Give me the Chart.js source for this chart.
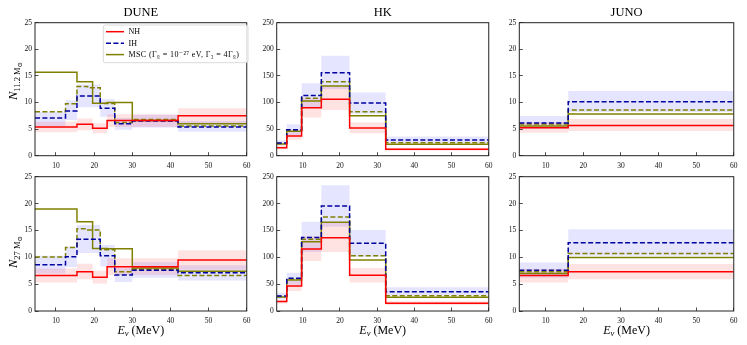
<!DOCTYPE html>
<html><head><meta charset="utf-8">
<script src="https://cdn.jsdelivr.net/npm/chart.js@4.4.1/dist/chart.umd.min.js"></script>
<style>
html,body{margin:0;padding:0;background:#fff;}
#wrap{position:relative;width:747px;height:345px;overflow:hidden;background:#fff;}
canvas{position:absolute;}
</style></head><body>
<div id="wrap">
<canvas id="c0" width="260" height="172" style="left:0px;top:0px"></canvas>
<canvas id="c1" width="252" height="172" style="left:250px;top:0px"></canvas>
<canvas id="c2" width="254" height="172" style="left:493px;top:0px"></canvas>
<canvas id="c3" width="260" height="181" style="left:0px;top:164px"></canvas>
<canvas id="c4" width="252" height="181" style="left:250px;top:164px"></canvas>
<canvas id="c5" width="254" height="181" style="left:493px;top:164px"></canvas>
</div>
<script>
// ---------- labels / ticks ----------
const titles = ['DUNE', 'HK', 'JUNO'];
const xTicks = [10, 20, 30, 40, 50, 60];
const yTicksSmall = [0, 5, 10, 15, 20, 25];
const yTicksHK = [0, 50, 100, 150, 200, 250];
const legendLabels = ['NH', 'IH', 'MSC (Γ₈ = 10⁻²⁷ eV, Γ₃ = 4Γ₈)'];
const yLabelSubs = ['11.2 M', '27 M'];
const xLabelText = ['E', 'ν', ' (MeV)'];

// ---------- DUNE (bin edges, MeV) ----------
const duneEdges = [4.5, 12.5, 15.5, 18.3, 19.6, 21.6, 23.4, 25.4, 30, 42, 60];
// 11.2 Msun
const duneTopNH    = [5.4, 5.4, 5.9, 5.9, 5.15, 5.15, 6.6, 6.6, 6.6, 7.5];
const duneTopIH    = [7.1, 8.4, 11.2, 11.2, 11.2, 8.9, 8.9, 6.0, 6.5, 5.4];
const duneTopMSC   = [15.7, 15.7, 13.9, 13.9, 9.85, 9.85, 10.0, 10.0, 6.6, 6.0];
const duneTopMSCIH = [8.25, 9.75, 13.0, 12.75, 12.75, 9.8, 9.8, 6.25, 6.8, 5.6];
const duneTopNHLo  = [4.4, 4.4, 4.8, 4.8, 4.2, 4.2, 5.4, 5.4, 5.4, 6.1];
const duneTopNHHi  = [6.4, 6.4, 7.0, 7.0, 6.1, 6.1, 7.8, 7.8, 7.8, 8.9];
const duneTopIHLo  = [5.6, 6.7, 9.1, 9.1, 9.1, 7.3, 7.3, 4.9, 5.3, 4.5];
const duneTopIHHi  = [8.2, 10.4, 13.4, 13.4, 13.4, 10.6, 10.6, 7.1, 7.7, 6.5];
// 27 Msun
const duneBotNH    = [6.6, 6.6, 7.3, 7.3, 6.3, 6.3, 8.25, 8.25, 8.25, 9.5];
const duneBotIH    = [8.6, 10.1, 13.35, 13.35, 13.35, 10.3, 10.3, 6.7, 7.6, 7.1];
const duneBotMSC   = [19.0, 19.0, 16.6, 16.6, 11.65, 11.65, 11.6, 11.6, 8.0, 7.4];
const duneBotMSCIH = [10.05, 11.8, 15.3, 15.1, 15.1, 11.4, 11.4, 7.3, 7.75, 6.6];
const duneBotNHLo  = [5.3, 5.3, 5.9, 5.9, 5.1, 5.1, 6.7, 6.7, 6.7, 7.7];
const duneBotNHHi  = [7.9, 7.9, 8.8, 8.8, 7.5, 7.5, 9.8, 9.8, 9.8, 11.3];
const duneBotIHLo  = [7.0, 8.2, 10.8, 10.8, 10.8, 8.3, 8.3, 5.4, 6.2, 5.7];
const duneBotIHHi  = [10.3, 12.0, 16.0, 16.0, 16.0, 12.3, 12.3, 8.0, 9.1, 8.5];

// ---------- HK ----------
const hkEdges = [3, 5.7, 9.7, 15, 22.6, 32.3, 60];
const hkTopNH    = [15, 37, 90, 106, 52, 12];
const hkTopIH    = [24, 49, 113, 156, 99, 29.5];
const hkTopMSC   = [22, 46, 103, 131, 75, 21.5];
const hkTopMSCIH = [23, 48, 108, 139, 82.5, 24.5];
const hkTopNHLo  = [12, 30, 72, 86, 42, 9.5];
const hkTopNHHi  = [19, 45, 108, 130, 63, 15];
const hkTopIHLo  = [19, 39, 90, 125, 79, 24];
const hkTopIHHi  = [29, 59, 136, 188, 119, 36];
const hkBotNH    = [17.5, 46.5, 115.5, 136.5, 66.5, 14.3];
const hkBotIH    = [28, 61, 137, 195.5, 126, 36];
const hkBotMSC   = [26, 57.5, 129, 165, 95, 25.5];
const hkBotMSCIH = [27, 59.5, 133.5, 175, 103, 28.5];
const hkBotNHLo  = [14, 37, 93, 110, 53, 11];
const hkBotNHHi  = [21, 56, 139, 165, 80, 18];
const hkBotIHLo  = [22, 49, 110, 157, 101, 29];
const hkBotIHHi  = [34, 71, 166, 234, 151, 44];

// ---------- JUNO ----------
const junoEdges = [3, 16, 60];
const junoTopNH    = [5.25, 5.7];
const junoTopIH    = [6.15, 10.15];
const junoTopMSC   = [5.6, 7.85];
const junoTopMSCIH = [5.95, 8.6];
const junoTopNHLo  = [4.3, 4.65];
const junoTopNHHi  = [6.3, 6.9];
const junoTopIHLo  = [5.0, 8.2];
const junoTopIHHi  = [7.45, 12.15];
const junoBotNH    = [6.6, 7.3];
const junoBotIH    = [7.6, 12.7];
const junoBotMSC   = [7.0, 9.95];
const junoBotMSCIH = [7.3, 10.7];
const junoBotNHLo  = [5.3, 5.9];
const junoBotNHHi  = [7.8, 8.75];
const junoBotIHLo  = [6.2, 10.3];
const junoBotIHHi  = [9.05, 15.2];

// ---------- styling ----------
const SERIF = "'Liberation Serif','DejaVu Serif',serif";
const COL_NH = '#ff0000', COL_IH = '#0000a0', COL_MSC = '#808000';

function steps(edges, vals) {
  const pts = vals.map((v, i) => ({x: edges[i], y: v}));
  pts.push({x: edges[edges.length - 1], y: vals[vals.length - 1]});
  return pts;
}

function drawRich(ctx, parts, x, y, angle, center) {
  ctx.save();
  ctx.translate(x, y);
  ctx.rotate(angle);
  let w = 0;
  parts.forEach(p => { ctx.font = (p.it ? 'italic ' : '') + p.px + 'px ' + SERIF; p.w = ctx.measureText(p.t).width; w += p.w; });
  let cx = center ? -w / 2 : 0;
  ctx.textBaseline = 'alphabetic';
  ctx.fillStyle = '#000';
  parts.forEach(p => { ctx.font = (p.it ? 'italic ' : '') + p.px + 'px ' + SERIF; ctx.fillText(p.t, cx, p.dy || 0); cx += p.w; });
  ctx.restore();
}

const framePlugin = {
  id: 'frame',
  afterDraw(chart) {
    const {ctx, chartArea: a} = chart;
    ctx.save();
    ctx.strokeStyle = '#222';
    ctx.lineWidth = 1;
    ctx.strokeRect(a.left, a.top, a.right - a.left, a.bottom - a.top);
    ctx.restore();
  }
};

function labelPlugin(p) {
  return {
    id: 'labels' + p.id,
    afterDraw(chart) {
      const ctx = chart.ctx, a = chart.chartArea;
      if (p.yLabel !== undefined) {
        drawRich(ctx, [
          {t: 'N', px: 12.5, it: true},
          {t: yLabelSubs[p.yLabel], px: 8.5, dy: 2.5},
          {t: '⊙', px: 6.5, dy: 4.5}
        ], 17, p.yLabelStart, -Math.PI / 2, false);
      }
      if (p.xLabel) {
        drawRich(ctx, [
          {t: xLabelText[0], px: 12, it: true},
          {t: xLabelText[1], px: 8.5, it: true, dy: 2.5},
          {t: xLabelText[2], px: 12}
        ], (a.left + a.right) / 2, 169.8, 0, true);
      }
    }
  };
}

const legendPlugin = {
  id: 'mplLegend',
  afterDraw(chart) {
    const ctx = chart.ctx;
    const bx = 103.3, by = 25, bw = 144.7, bh = 37.7, r = 2;
    ctx.save();
    ctx.beginPath();
    ctx.moveTo(bx + r, by); ctx.lineTo(bx + bw - r, by); ctx.arcTo(bx + bw, by, bx + bw, by + r, r);
    ctx.lineTo(bx + bw, by + bh - r); ctx.arcTo(bx + bw, by + bh, bx + bw - r, by + bh, r);
    ctx.lineTo(bx + r, by + bh); ctx.arcTo(bx, by + bh, bx, by + bh - r, r);
    ctx.lineTo(bx, by + r); ctx.arcTo(bx, by, bx + r, by, r);
    ctx.closePath();
    ctx.fillStyle = 'rgba(255,255,255,0.85)';
    ctx.fill();
    ctx.strokeStyle = '#d0d0d0';
    ctx.lineWidth = 0.8;
    ctx.stroke();
    const ys = [31.7, 43.2, 54.6];
    legendLabels.forEach((lab, i) => {
      const ds = chart.data.datasets.find(d => d.label === lab);
      ctx.beginPath();
      ctx.setLineDash(ds.borderDash || []);
      ctx.strokeStyle = ds.borderColor;
      ctx.lineWidth = ds.borderWidth;
      ctx.moveTo(106, ys[i]); ctx.lineTo(124, ys[i]);
      ctx.stroke();
      ctx.setLineDash([]);
      ctx.fillStyle = '#000';
      ctx.font = '8px ' + SERIF;
      ctx.textBaseline = 'middle';
      ctx.letterSpacing = lab.length > 5 ? '0.4px' : '0px';
      ctx.fillText(lab, 128.5, ys[i] + 0.5);
      ctx.letterSpacing = '0px';
    });
    ctx.restore();
  }
};

const panels = [
  {id: 0, title: titles[0], edges: duneEdges, xMin: 4.5, yMax: 25, yTicks: yTicksSmall, yW: 35, padR: 10.7, top: true,
   nh: duneTopNH, ih: duneTopIH, msc: duneTopMSC, mscih: duneTopMSCIH, nhLo: duneTopNHLo, nhHi: duneTopNHHi, ihLo: duneTopIHLo, ihHi: duneTopIHHi,
   yLabel: 0, yLabelStart: 100, legend: true},
  {id: 1, title: titles[1], edges: hkEdges, xMin: 3, yMax: 250, yTicks: yTicksHK, yW: 26.7, padR: 10.3, top: true,
   nh: hkTopNH, ih: hkTopIH, msc: hkTopMSC, mscih: hkTopMSCIH, nhLo: hkTopNHLo, nhHi: hkTopNHHi, ihLo: hkTopIHLo, ihHi: hkTopIHHi},
  {id: 2, title: titles[2], edges: junoEdges, xMin: 3, yMax: 25, yTicks: yTicksSmall, yW: 26.3, padR: 12.7, top: true,
   nh: junoTopNH, ih: junoTopIH, msc: junoTopMSC, mscih: junoTopMSCIH, nhLo: junoTopNHLo, nhHi: junoTopNHHi, ihLo: junoTopIHLo, ihHi: junoTopIHHi},
  {id: 3, edges: duneEdges, xMin: 4.5, yMax: 25, yTicks: yTicksSmall, yW: 35, padR: 10.7, top: false,
   nh: duneBotNH, ih: duneBotIH, msc: duneBotMSC, mscih: duneBotMSCIH, nhLo: duneBotNHLo, nhHi: duneBotNHHi, ihLo: duneBotIHLo, ihHi: duneBotIHHi,
   yLabel: 1, yLabelStart: 104, xLabel: true},
  {id: 4, edges: hkEdges, xMin: 3, yMax: 250, yTicks: yTicksHK, yW: 26.7, padR: 10.3, top: false,
   nh: hkBotNH, ih: hkBotIH, msc: hkBotMSC, mscih: hkBotMSCIH, nhLo: hkBotNHLo, nhHi: hkBotNHHi, ihLo: hkBotIHLo, ihHi: hkBotIHHi, xLabel: true},
  {id: 5, edges: junoEdges, xMin: 3, yMax: 25, yTicks: yTicksSmall, yW: 26.3, padR: 12.7, top: false,
   nh: junoBotNH, ih: junoBotIH, msc: junoBotMSC, mscih: junoBotMSCIH, nhLo: junoBotNHLo, nhHi: junoBotNHHi, ihLo: junoBotIHLo, ihHi: junoBotIHHi, xLabel: true}
];

const tickFont = {family: SERIF, size: 7.5};
const gridOpts = {drawOnChartArea: false, drawTicks: true, tickLength: -3.5, color: '#222', lineWidth: 0.8};

panels.forEach(p => {
  const base = {pointRadius: 0, pointHoverRadius: 0, stepped: true, tension: 0};
  const datasets = [
    Object.assign({data: steps(p.edges, p.nhLo), borderColor: 'transparent', borderWidth: 0, fill: false, order: 10}, base),
    Object.assign({data: steps(p.edges, p.nhHi), borderColor: 'transparent', borderWidth: 0, backgroundColor: 'rgba(255,0,0,0.11)', fill: '-1', order: 10}, base),
    Object.assign({data: steps(p.edges, p.ihLo), borderColor: 'transparent', borderWidth: 0, fill: false, order: 10}, base),
    Object.assign({data: steps(p.edges, p.ihHi), borderColor: 'transparent', borderWidth: 0, backgroundColor: 'rgba(0,0,255,0.10)', fill: '-1', order: 10}, base),
    Object.assign({label: 'MSC IH', data: steps(p.edges, p.mscih), borderColor: COL_MSC, borderWidth: 1.5, borderDash: [5, 2.4], fill: false, order: 4}, base),
    Object.assign({label: legendLabels[2], data: steps(p.edges, p.msc), borderColor: COL_MSC, borderWidth: 1.5, fill: false, order: 3}, base),
    Object.assign({label: legendLabels[1], data: steps(p.edges, p.ih), borderColor: COL_IH, borderWidth: 1.5, borderDash: [5, 2.4], fill: false, order: 2}, base),
    Object.assign({label: legendLabels[0], data: steps(p.edges, p.nh), borderColor: COL_NH, borderWidth: 1.5, fill: false, order: 1}, base)
  ];
  const plugins = [framePlugin, labelPlugin(p)];
  if (p.legend) plugins.push(legendPlugin);
  new Chart(document.getElementById('c' + p.id), {
    type: 'line',
    data: {datasets},
    plugins,
    options: {
      responsive: false,
      animation: false,
      devicePixelRatio: 1,
      events: [],
      layout: {padding: {left: 0, right: p.padR, top: p.top ? 0 : 12.7, bottom: 0}},
      plugins: {
        legend: {display: false},
        tooltip: {enabled: false},
        filler: {drawTime: 'beforeDatasetsDraw'},
        title: p.top ? {display: true, text: p.title, fullSize: false, color: '#000',
          font: {family: SERIF, size: 12.5, weight: 'normal', lineHeight: 1.2}, padding: {top: 5, bottom: 2.7}} : {display: false}
      },
      scales: {
        x: {
          type: 'linear', min: p.xMin, max: 60,
          afterBuildTicks: s => { s.ticks = xTicks.map(v => ({value: v})); },
          afterFit: s => { s.height = p.top ? 16.3 : 34; },
          grid: gridOpts,
          border: {display: false},
          ticks: {font: tickFont, color: '#111', padding: 9.5, maxRotation: 0, autoSkip: false}
        },
        y: {
          min: 0, max: p.yMax,
          afterBuildTicks: s => { s.ticks = p.yTicks.map(v => ({value: v})); },
          afterFit: s => { s.width = p.yW; },
          grid: gridOpts,
          border: {display: false},
          ticks: {font: tickFont, color: '#111', padding: 6.5, autoSkip: false}
        }
      }
    }
  });
});
</script>
</body></html>
